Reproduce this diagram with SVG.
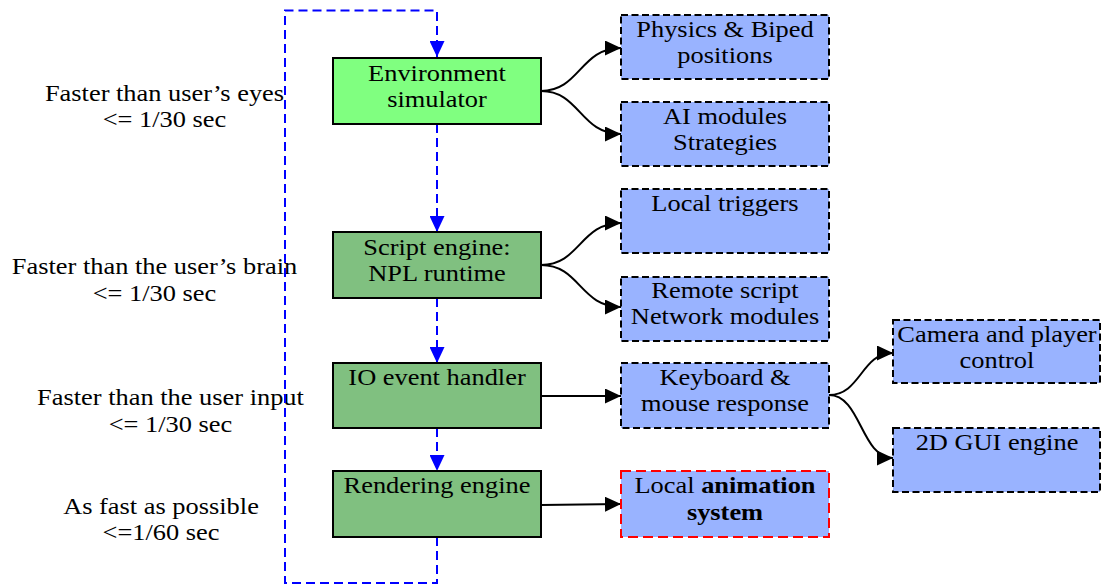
<svg xmlns="http://www.w3.org/2000/svg" width="1102" height="585" viewBox="0 0 1102 585">
<defs>
<style>
text{font-family:"Liberation Serif","Times New Roman",serif;font-size:24px;fill:#000;text-anchor:middle}
.b{font-weight:bold}
.main{stroke:#000;stroke-width:2}
.env{fill:#80ff80}
.dg{fill:#80c080}
.side{fill:#99b3ff;stroke:#000;stroke-width:2;stroke-dasharray:7 3.5}
.red{fill:#99b3ff;stroke:#ff0000;stroke-width:2;stroke-dasharray:10 5}
.flow{fill:none;stroke:#0000ff;stroke-width:2;stroke-dasharray:9 5}
.con{fill:none;stroke:#000;stroke-width:2}
</style>
<marker id="ab" markerUnits="userSpaceOnUse" markerWidth="16" markerHeight="15" refX="16" refY="7.5" orient="auto">
<path d="M0,0 L16,7.5 L0,15 z" fill="#000"/>
</marker>
<marker id="au" markerUnits="userSpaceOnUse" markerWidth="16" markerHeight="15" refX="16" refY="7.5" orient="auto">
<path d="M0,0 L16,7.5 L0,15 z" fill="#0000ff"/>
</marker>
</defs>
<rect width="1102" height="585" fill="#fff"/>

<g id="labels">
<text transform="translate(164.5 0) scale(1.1 1)"><tspan x="0" y="101">Faster than user’s eyes</tspan><tspan x="0" y="127">&lt;= 1/30 sec</tspan></text>
<text transform="translate(154.5 0) scale(1.1 1)"><tspan x="0" y="274">Faster than the user’s brain</tspan><tspan x="0" y="301">&lt;= 1/30 sec</tspan></text>
<text transform="translate(170.5 0) scale(1.1 1)"><tspan x="0" y="405">Faster than the user input</tspan><tspan x="0" y="432">&lt;= 1/30 sec</tspan></text>
<text transform="translate(161 0) scale(1.1 1)"><tspan x="0" y="514">As fast as possible</tspan><tspan x="0" y="540">&lt;=1/60 sec</tspan></text>
</g>

<g id="connectors">
<path class="flow" d="M437,537 V583 H285 V10.5 H437 V57" marker-end="url(#au)"/>
<path class="flow" d="M437,124 V232" marker-end="url(#au)"/>
<path class="flow" d="M437,298 V363" marker-end="url(#au)"/>
<path class="flow" d="M437,428 V471" marker-end="url(#au)"/>
<path class="con" d="M541,91 C580,91 580,48 621,48" marker-end="url(#ab)"/>
<path class="con" d="M541,91 C580,91 580,134 621,134" marker-end="url(#ab)"/>
<path class="con" d="M541,265 C580,265 580,223 621,223" marker-end="url(#ab)"/>
<path class="con" d="M541,265 C580,265 580,307 621,307" marker-end="url(#ab)"/>
<path class="con" d="M541,396 H621" marker-end="url(#ab)"/>
<path class="con" d="M541,505 L621,504" marker-end="url(#ab)"/>
<path class="con" d="M829,395 C861,395 861,353 893,353" marker-end="url(#ab)"/>
<path class="con" d="M829,395 C861,395 861,458 893,458" marker-end="url(#ab)"/>
</g>

<g id="env">
<rect class="main env" x="333" y="58" width="208" height="66"/>
<text transform="translate(437 0) scale(1.1 1)"><tspan x="0" y="81">Environment</tspan><tspan x="0" y="107">simulator</tspan></text>
</g>
<g id="script">
<rect class="main dg" x="333" y="232" width="208" height="66"/>
<text transform="translate(437 0) scale(1.1 1)"><tspan x="0" y="255">Script engine:</tspan><tspan x="0" y="281">NPL runtime</tspan></text>
</g>
<g id="io">
<rect class="main dg" x="333" y="363" width="208" height="65"/>
<text transform="translate(437 0) scale(1.1 1)"><tspan x="0" y="385">IO event handler</tspan></text>
</g>
<g id="render">
<rect class="main dg" x="333" y="471" width="208" height="66"/>
<text transform="translate(437 0) scale(1.1 1)"><tspan x="0" y="493">Rendering engine</tspan></text>
</g>

<g id="physics">
<rect class="side" x="621" y="15" width="208" height="64"/>
<text transform="translate(725 0) scale(1.1 1)"><tspan x="0" y="37">Physics &amp; Biped</tspan><tspan x="0" y="63.5">positions</tspan></text>
</g>
<g id="ai">
<rect class="side" x="621" y="102" width="208" height="64"/>
<text transform="translate(725 0) scale(1.1 1)"><tspan x="0" y="124.5">AI modules</tspan><tspan x="0" y="150.5">Strategies</tspan></text>
</g>
<g id="triggers">
<rect class="side" x="621" y="189" width="208" height="64"/>
<text transform="translate(725 0) scale(1.1 1)"><tspan x="0" y="211">Local triggers</tspan></text>
</g>
<g id="remote">
<rect class="side" x="621" y="277" width="208" height="64"/>
<text transform="translate(725 0) scale(1.1 1)"><tspan x="0" y="298">Remote script</tspan><tspan x="0" y="324.5">Network modules</tspan></text>
</g>
<g id="keyboard">
<rect class="side" x="621" y="363" width="208" height="65"/>
<text transform="translate(725 0) scale(1.1 1)"><tspan x="0" y="385">Keyboard &amp;</tspan><tspan x="0" y="411.5">mouse response</tspan></text>
</g>
<g id="animation">
<rect class="red" x="621" y="471" width="208" height="66"/>
<text transform="translate(725 0) scale(1.1 1)"><tspan x="0" y="493.5">Local <tspan class="b">animation</tspan></tspan><tspan x="0" y="520" class="b">system</tspan></text>
</g>
<g id="camera">
<rect class="side" x="893" y="320" width="207" height="63"/>
<text transform="translate(997 0) scale(1.1 1)"><tspan x="0" y="342">Camera and player</tspan><tspan x="0" y="368.5">control</tspan></text>
</g>
<g id="gui">
<rect class="side" x="893" y="428" width="207" height="64"/>
<text transform="translate(997 0) scale(1.1 1)"><tspan x="0" y="450">2D GUI engine</tspan></text>
</g>
</svg>
